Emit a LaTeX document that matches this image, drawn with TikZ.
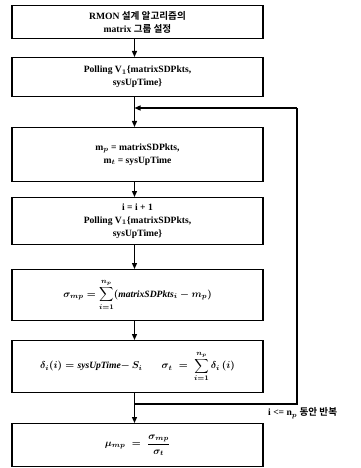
\documentclass[tikz,border=0pt]{standalone}
\usepackage{amsmath}
\usepackage{fontspec}
\setmainfont{Liberation Serif}
\newfontfamily\kr{Noto Sans CJK KR}[BoldFont={* Bold}]
\usetikzlibrary{arrows.meta}

\newcommand{\vname}[1]{\textbf{\textit{#1}}}

\tikzset{
  stepbox/.style={draw, line width=1.1pt, rectangle, minimum width=251pt,
    inner sep=2pt, align=center, anchor=north,
    font=\fontsize{9.6}{13}\selectfont\bfseries\boldmath},
  flow/.style={line width=1.3pt, -{Triangle[length=6pt,width=5pt]}},
  loopline/.style={line width=1.3pt},
  looplabel/.style={anchor=west, inner sep=0pt,
    font=\fontsize{9.6}{11}\selectfont\bfseries\boldmath}
}

\begin{document}
\begin{tikzpicture}[x=1pt,y=-1pt]
  \useasboundingbox (0,0) rectangle (360,468);

  % process steps, top to bottom
  \node[stepbox, minimum height=33pt] (b1) at (137.5,5)
    {RMON {\kr 설계 알고리즘의}\\ matrix {\kr 그룹 설정}};
  \node[stepbox, minimum height=39pt] (b2) at (137.5,57)
    {Polling V$_1${\{}matrixSDPkts,\\ sysUpTime\}};
  \node[stepbox, minimum height=54pt] (b3) at (137.5,127)
    {m$_p$ = matrixSDPkts,\\ m$_t$ = sysUpTime};
  \node[stepbox, minimum height=47pt] (b4) at (137.5,197)
    {i = i + 1\\ Polling V$_1${\{}matrixSDPkts,\\ sysUpTime\}};
  \node[stepbox, minimum height=51pt] (b5) at (137.5,269)
    {$\displaystyle \sigma_{mp} = \sum_{i=1}^{n_p}(\text{\vname{matrixSDPkts}}_i - m_p)$};
  \node[stepbox, minimum height=52pt] (b6) at (137.5,340)
    {$\displaystyle \delta_i(i) = \text{\vname{sysUpTime}}{-}\,S_i \qquad
      \sigma_t \;=\; \sum_{i=1}^{n_p}\delta_i\,(i)$};
  \node[stepbox, minimum height=43pt] (b7) at (137.5,423)
    {$\mu_{mp} \;=\; \dfrac{\sigma_{mp}}{\sigma_t}$};

  % repeat loop corners
  \coordinate (jbot) at (134.5,404);
  \coordinate (jtop) at (134.5,108);
  \coordinate (lbot) at (297,404);
  \coordinate (ltop) at (297,108);

  % forward flow
  \draw[flow] ([xshift=-3pt]b1.south) -- ([xshift=-3pt]b2.north);
  \draw[flow] ([xshift=-3pt]b2.south) -- ([xshift=-3pt]b3.north);
  \draw[flow] ([xshift=-3pt]b3.south) -- ([xshift=-3pt]b4.north);
  \draw[flow] ([xshift=-3pt]b4.south) -- ([xshift=-3pt]b5.north);
  \draw[flow] ([xshift=-3pt]b5.south) -- ([xshift=-3pt]b6.north);
  \draw[flow] ([xshift=-3pt]b6.south) -- ([xshift=-3pt]b7.north);

  % feedback path
  \draw[loopline] (jbot) -- (lbot) -- (ltop);
  \draw[flow] (ltop) -- (jtop);

  \node[looplabel] (lab) at (268,413) {i <= n$_p$ {\kr 동안 반복}};
\end{tikzpicture}
\end{document}
